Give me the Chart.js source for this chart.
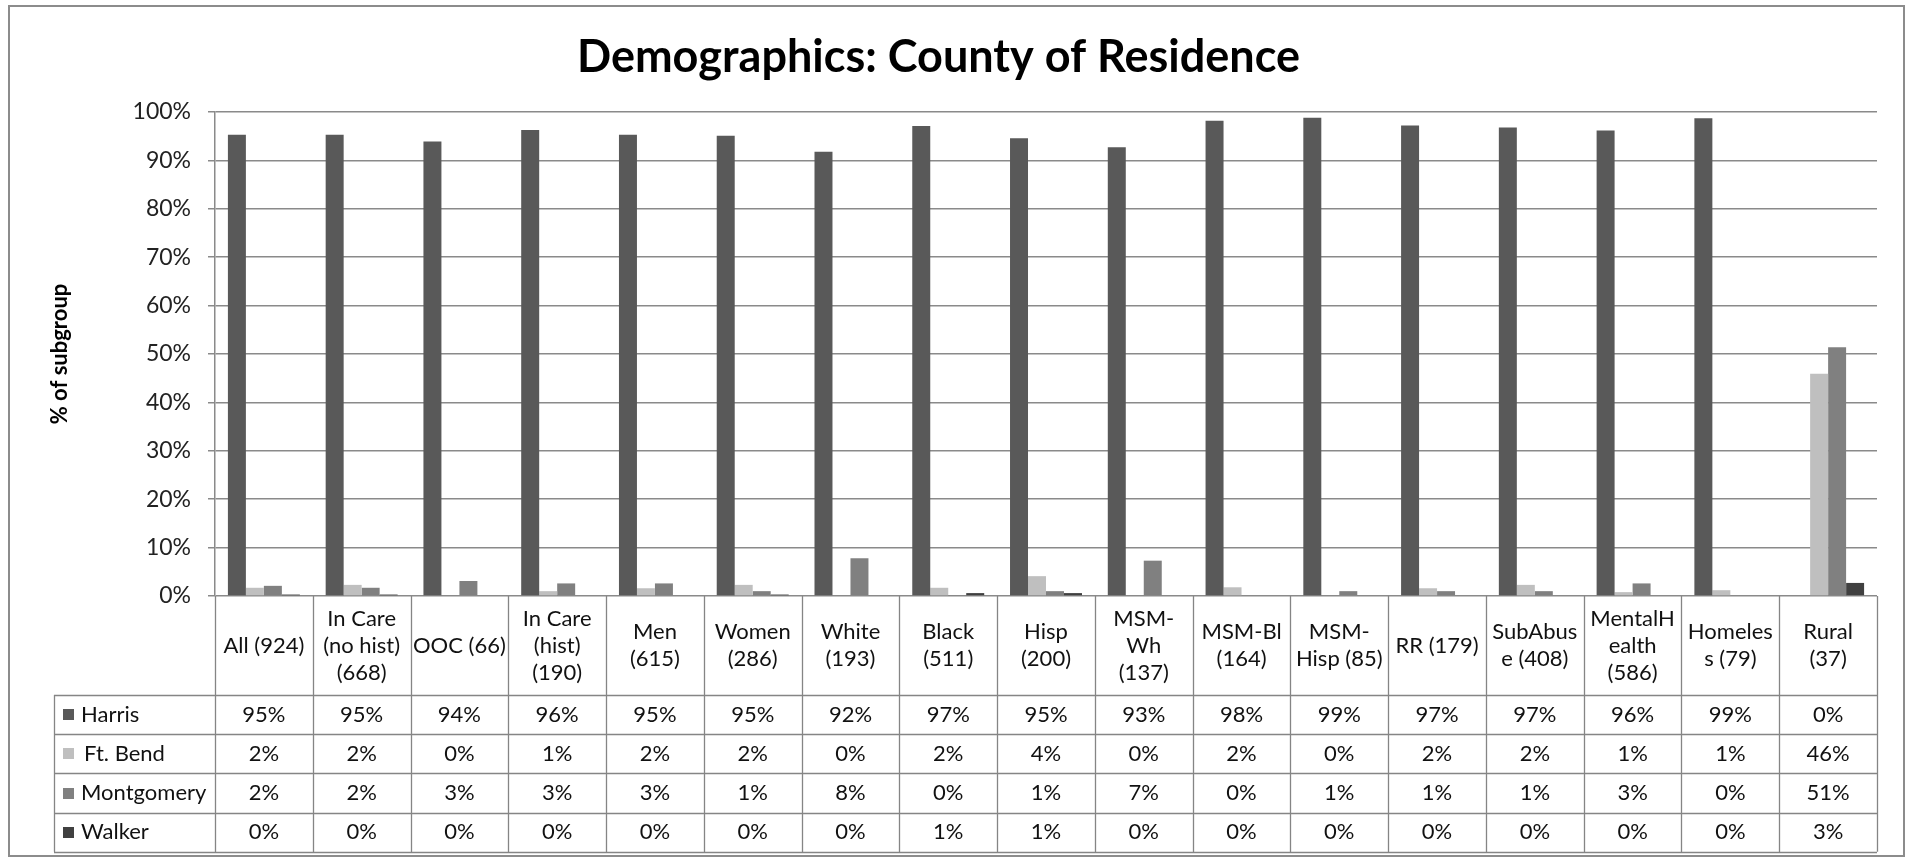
<!DOCTYPE html>
<html>
<head>
<meta charset="utf-8">
<script src="https://cdn.jsdelivr.net/npm/chart.js@4"></script>
<style>
  html, body { margin: 0; padding: 0; background: #ffffff; }
  #wrap { position: relative; width: 1911px; height: 861px; }
</style>
</head>
<body>
<div id="wrap"><canvas id="c" width="1911" height="861"></canvas></div>
<script>
// ---- data ----
const categories = ["All (924)", "In Care (no hist) (668)", "OOC (66)", "In Care (hist) (190)", "Men (615)", "Women (286)", "White (193)", "Black (511)", "Hisp (200)", "MSM-Wh (137)", "MSM-Bl (164)", "MSM-Hisp (85)", "RR (179)", "SubAbuse (408)", "MentalHealth (586)", "Homeless (79)", "Rural (37)"];
const headerLabels = [
  ["All (924)"], ["In Care", "(no hist)", "(668)"], ["OOC (66)"], ["In Care", "(hist)", "(190)"],
  ["Men", "(615)"], ["Women", "(286)"], ["White", "(193)"], ["Black", "(511)"], ["Hisp", "(200)"],
  ["MSM-", "Wh", "(137)"], ["MSM-Bl", "(164)"], ["MSM-", "Hisp (85)"], ["RR (179)"],
  ["SubAbus", "e (408)"], ["MentalH", "ealth", "(586)"], ["Homeles", "s (79)"], ["Rural", "(37)"]
];
const harris     = [95.3, 95.3, 93.9, 96.3, 95.3, 95.1, 91.8, 97.1, 94.6, 92.7, 98.2, 98.8, 97.2, 96.8, 96.2, 98.7, 0];
const ftBend     = [1.7, 2.3, 0, 1.0, 1.6, 2.3, 0, 1.7, 4.1, 0, 1.8, 0, 1.6, 2.3, 0.8, 1.2, 45.9];
const montgomery = [2.1, 1.7, 3.1, 2.6, 2.6, 1.0, 7.8, 0.2, 1.0, 7.3, 0, 1.0, 1.0, 1.0, 2.6, 0, 51.4];
const walker     = [0.3, 0.3, 0, 0, 0, 0.3, 0, 0.6, 0.6, 0, 0, 0, 0, 0, 0, 0, 2.7];
const seriesNames = ["Harris", "Ft. Bend", "Montgomery", "Walker"];
const yTickValues = [0, 10, 20, 30, 40, 50, 60, 70, 80, 90, 100];
const titleText = "Demographics: County of Residence";
const yTitleText = "% of subgroup";

// ---- styles ----
const seriesColors = ["#595959", "#bfbfbf", "#808080", "#404040"];
const FONT = "Lato, 'Open Sans', sans-serif";
const GRID = "#8a8a8a";
const seriesData = [harris, ftBend, montgomery, walker];

const tablePlugin = {
  id: "dataTable",
  beforeDraw(chart) {
    const ctx = chart.ctx;
    ctx.save();
    ctx.fillStyle = "#ffffff";
    ctx.fillRect(0, 0, chart.width, chart.height);
    ctx.strokeStyle = "#8c8c8c";
    ctx.lineWidth = 2;
    ctx.strokeRect(9, 6, 1895, 850);
    ctx.restore();
  },
  afterDraw(chart) {
    const ctx = chart.ctx;
    const xs = chart.scales.x;
    const area = chart.chartArea;
    const n = categories.length;
    const colW = (area.right - area.left) / n;
    const top = area.bottom;
    const headerH = 99;
    const rowH = 39.2;
    const tableLeft = 54;
    const rowsTop = top + headerH;
    const bottom = rowsTop + rowH * seriesNames.length;
    ctx.save();
    ctx.strokeStyle = "#858585";
    ctx.lineWidth = 1.3;
    ctx.beginPath();
    for (let i = 0; i <= n; i++) {
      const x = Math.round(area.left + i * colW) + 0.5;
      ctx.moveTo(x, top);
      ctx.lineTo(x, bottom);
    }
    ctx.moveTo(tableLeft + 0.5, rowsTop);
    ctx.lineTo(tableLeft + 0.5, bottom);
    for (let r = 0; r <= seriesNames.length; r++) {
      const y = Math.round(rowsTop + r * rowH) + 0.5;
      ctx.moveTo(tableLeft, y);
      ctx.lineTo(area.right, y);
    }
    ctx.stroke();

    ctx.fillStyle = "#111";
    ctx.font = "22px " + FONT;
    ctx.textAlign = "center";
    ctx.textBaseline = "middle";
    const lineH = 27;
    for (let i = 0; i < n; i++) {
      const cx = xs.getPixelForValue(i);
      const lines = headerLabels[i];
      const cy = top + headerH / 2;
      lines.forEach((ln, k) => {
        ctx.fillText(ln, cx, cy + (k - (lines.length - 1) / 2) * lineH);
      });
    }
    for (let r = 0; r < seriesNames.length; r++) {
      const cy = rowsTop + r * rowH + rowH / 2;
      ctx.fillStyle = seriesColors[r];
      ctx.fillRect(63, Math.round(cy - 5.5), 11, 11);
      ctx.fillStyle = "#111";
      ctx.textAlign = "left";
      ctx.fillText(seriesNames[r], r === 1 ? 84 : 81, cy);
      ctx.textAlign = "center";
      for (let i = 0; i < n; i++) {
        ctx.fillText(Math.round(seriesData[r][i]) + "%", xs.getPixelForValue(i), cy);
      }
    }
    ctx.restore();
  }
};

new Chart(document.getElementById("c"), {
  type: "bar",
  data: {
    labels: categories,
    datasets: seriesNames.map((name, i) => ({
      label: name,
      data: seriesData[i],
      backgroundColor: seriesColors[i],
      borderWidth: 0,
      categoryPercentage: 0.736,
      barPercentage: 1.0
    }))
  },
  options: {
    responsive: false,
    animation: false,
    devicePixelRatio: 1,
    layout: { padding: { top: 0, left: 0, right: 34, bottom: 265 } },
    plugins: {
      legend: { display: false },
      tooltip: { enabled: false },
      title: {
        display: true,
        text: titleText,
        color: "#000",
        font: { family: FONT, size: 45, weight: "bold", lineHeight: 1.2 },
        padding: { top: 30, bottom: 28 }
      }
    },
    scales: {
      x: {
        grid: { display: false },
        border: { display: false },
        ticks: { display: false },
        afterFit(s) { s.height = 0; }
      },
      y: {
        min: 0,
        max: 100,
        afterBuildTicks(s) { s.ticks = yTickValues.map(v => ({ value: v })); },
        ticks: {
          callback: v => v + "%",
          color: "#222",
          font: { family: FONT, size: 23 },
          padding: 17
        },
        grid: { color: GRID, lineWidth: 1.5, tickLength: 7, drawTicks: true },
        border: { display: true, color: GRID, width: 1.5 },
        title: {
          display: true,
          text: yTitleText,
          color: "#000",
          font: { family: FONT, size: 22, weight: "bold", lineHeight: 1.2 },
          padding: { top: 47, bottom: 0 }
        },
        afterFit(s) { s.width = 215; }
      }
    }
  },
  plugins: [tablePlugin]
});
</script>
</body>
</html>
